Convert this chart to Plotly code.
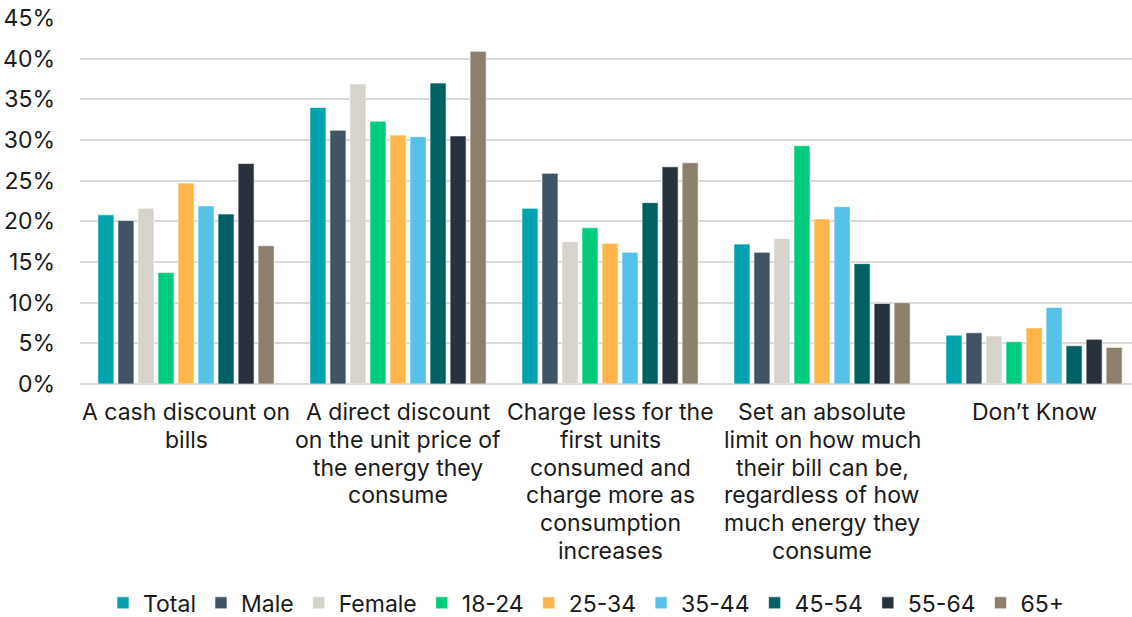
import plotly.graph_objects as go

# Category labels, one list of wrapped lines per category
category_lines = [
    ["A cash discount on", "bills"],
    ["A direct discount", "on the unit price of", "the energy they", "consume"],
    ["Charge less for the", "first units", "consumed and", "charge more as", "consumption", "increases"],
    ["Set an absolute", "limit on how much", "their bill can be,", "regardless of how", "much energy they", "consume"],
    ["Don\u2019t Know"],
]

series_names = ["Total", "Male", "Female", "18-24", "25-34", "35-44", "45-54", "55-64", "65+"]

total = [20.8, 34.0, 21.6, 17.2, 6.0]
male = [20.1, 31.2, 25.9, 16.2, 6.3]
female = [21.6, 36.9, 17.5, 17.9, 5.9]
age_18_24 = [13.7, 32.3, 19.2, 29.3, 5.2]
age_25_34 = [24.7, 30.6, 17.3, 20.3, 6.9]
age_35_44 = [21.9, 30.4, 16.2, 21.8, 9.4]
age_45_54 = [20.9, 37.0, 22.3, 14.8, 4.7]
age_55_64 = [27.1, 30.5, 26.7, 9.9, 5.5]
age_65_plus = [17.0, 40.9, 27.2, 10.0, 4.5]

series_values = [total, male, female, age_18_24, age_25_34, age_35_44, age_45_54, age_55_64, age_65_plus]

colors = ["#00A3AD", "#415463", "#D6D2CC", "#00CC7E", "#FFB549", "#56C1E8", "#006064", "#28323D", "#8C7F6B"]

y_ticks = [0, 5, 10, 15, 20, 25, 30, 35, 40, 45]

FONT = "Inter, Roboto, sans-serif"
TEXT_COLOR = "#1A1A1A"
LABEL_SIZE = 23
LINE_STEP = 27.8

x_pos = list(range(len(category_lines)))

fig = go.Figure()
for name, vals, col in zip(series_names, series_values, colors):
    fig.add_trace(go.Bar(
        x=x_pos,
        y=vals,
        name=name,
        marker=dict(color=col, line=dict(color="rgba(255,255,255,0.6)", width=1)),
    ))

# Wrapped category labels under each group, one annotation per line
for xi, lines in zip(x_pos, category_lines):
    for li, line in enumerate(lines):
        fig.add_annotation(
            x=xi, xref="x",
            y=0, yref="paper",
            yanchor="middle", xanchor="center",
            yshift=-(28 + li * LINE_STEP),
            text=line,
            showarrow=False,
            font=dict(family=FONT, size=LABEL_SIZE, color=TEXT_COLOR),
        )

fig.update_layout(
    width=1132,
    height=617,
    margin=dict(l=80, r=0, t=18, b=233, autoexpand=False),
    paper_bgcolor="white",
    plot_bgcolor="white",
    barmode="group",
    bargap=0.15,
    bargroupgap=0.2,
    font=dict(family=FONT, size=LABEL_SIZE, color=TEXT_COLOR),
    showlegend=True,
    legend=dict(
        orientation="h",
        x=0.481,
        xanchor="center",
        y=-0.598,
        yanchor="middle",
        font=dict(family=FONT, size=LABEL_SIZE, color=TEXT_COLOR),
        itemwidth=30,
        tracegroupgap=0,
    ),
)

fig.update_xaxes(
    range=[-0.5, 4.462],
    showticklabels=False,
    showgrid=False,
    showline=False,
    ticks="",
)

fig.update_yaxes(
    range=[0, 45],
    tickmode="array",
    tickvals=y_ticks,
    ticktext=[f"{v}%" for v in y_ticks],
    showgrid=True,
    gridcolor="#D9D9D9",
    gridwidth=2,
    zeroline=True,
    zerolinecolor="#D9D9D9",
    zerolinewidth=2,
    showline=False,
    ticks="",
    tickfont=dict(family=FONT, size=LABEL_SIZE, color=TEXT_COLOR),
    ticklabelstandoff=24,
)

fig.write_html("out.html")
